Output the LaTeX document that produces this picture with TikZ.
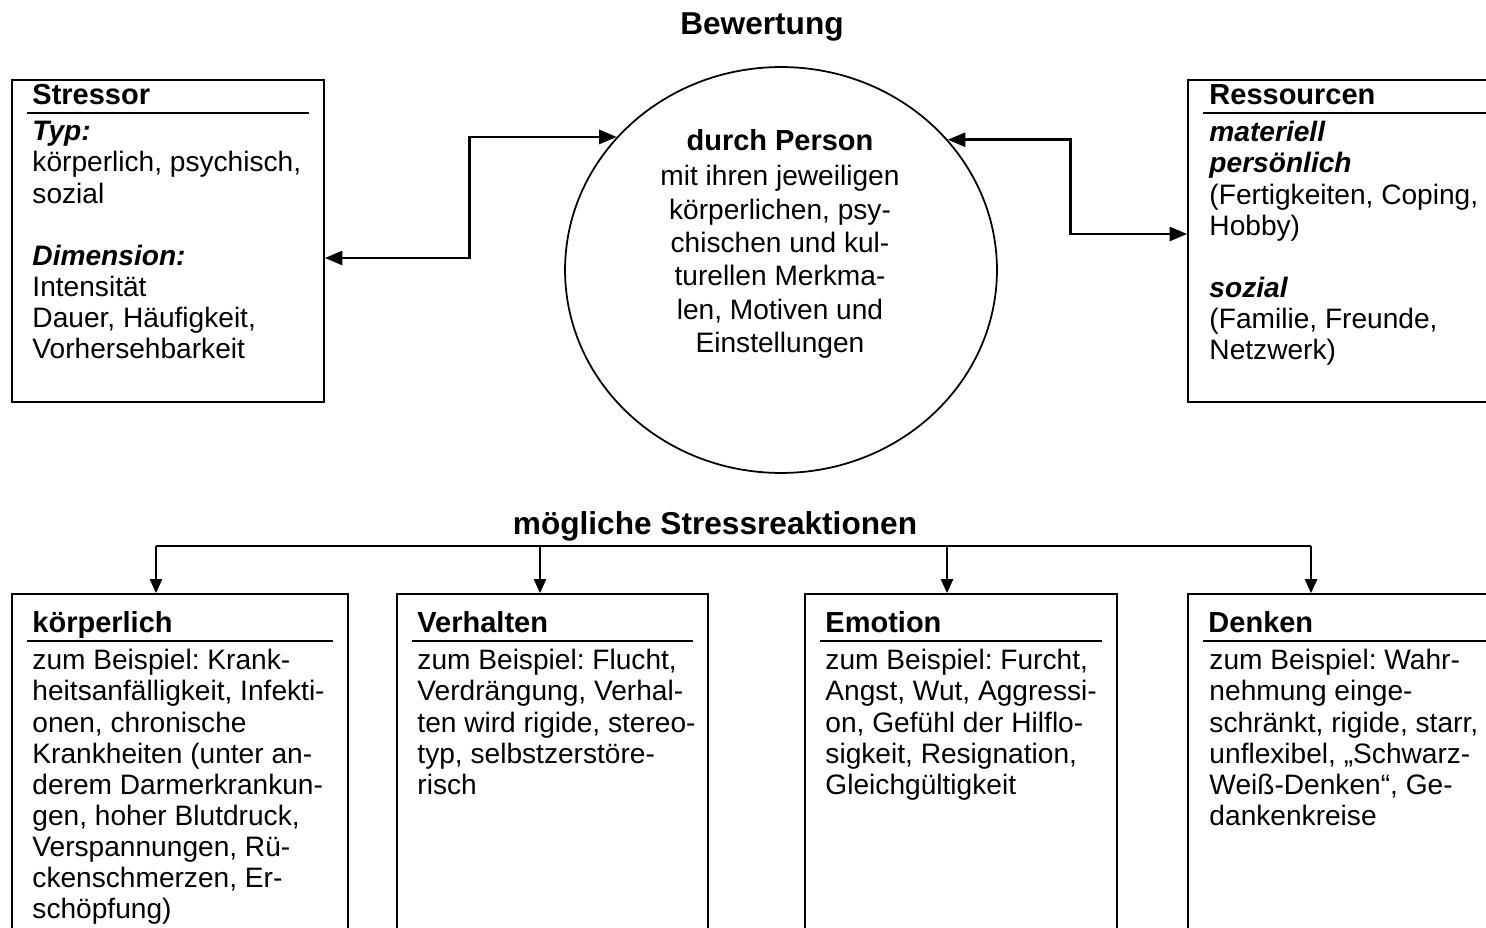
\documentclass[tikz,border=0pt]{standalone}
\usepackage{fontspec}
\setmainfont{Liberation Sans}
\usetikzlibrary{arrows.meta,positioning,fit,calc,shapes.geometric}
\frenchspacing
\newcommand{\bodyfont}{\fontsize{16}{17.7}\selectfont}
\newcommand{\headfont}{\fontsize{16.5}{18}\selectfont\bfseries}
\newcommand{\titlefont}{\fontsize{18}{20}\selectfont\bfseries}
\newcommand{\bi}[1]{\textbf{\textit{#1}}}

\begin{document}
\begin{tikzpicture}[x=0.02cm, y=-0.02cm,
  box/.style={draw=black, line width=1pt, inner sep=0pt},
  head/.style={font=\headfont, inner sep=0pt, anchor=base west},
  txt/.style={font=\bodyfont, align=left, inner sep=0pt, anchor=north west},
  rule/.style={line width=1pt},
  dbl/.style={{Triangle[length=10pt,width=8pt]}-{Triangle[length=10pt,width=8pt]}, line width=1.5pt},
  arr/.style={-{Triangle[length=8pt,width=7pt]}, line width=1pt}]
\useasboundingbox (0,0) rectangle (1486,928);
\clip (0,0) rectangle (1486,928);
% top row
\node[font=\titlefont, anchor=base] (bew) at (762,35) {Bewertung};
\node[box, fit={(12,80) (324,402)}] (stressor) {};
\node[head] (stressorH) at ($(stressor.north west)+(21,25)$) {Stressor};
\draw[rule] ($(stressor.north west)+(16,34)$) -- ($(stressor.north east)+(-16,34)$);
\node[txt] (stressorT) at ($(stressor.north west)+(21,42)$) {\bi{Typ:}\\körperlich, psychisch,\\sozial\\[17.7pt]\bi{Dimension:}\\Intensität\\Dauer, Häufigkeit,\\Vorhersehbarkeit};
\node[box, fit={(1188,80) (1510,402)}] (ressourcen) {};
\node[head] (ressourcenH) at ($(ressourcen.north west)+(22,25)$) {Ressourcen};
\draw[rule] ($(ressourcen.north west)+(16,34)$) -- ($(ressourcen.north east)+(-16,34)$);
\node[txt] (ressourcenT) at ($(ressourcen.north west)+(22,42)$) {\bi{materiell}\\\bi{persönlich}\\(Fertigkeiten, Coping,\\Hobby)\\[17.7pt]\bi{sozial}\\(Familie, Freunde,\\Netzwerk)};
% person
\node[draw, ellipse, line width=1pt, minimum width=8.64cm, minimum height=8.12cm, inner sep=0pt] (person) at (781,270) {};
\node[font=\headfont, anchor=base, inner sep=0pt] (personH) at (780,151) {durch Person};
\node[font=\fontsize{16}{19}\selectfont, align=center, inner sep=0pt, anchor=north] (personT) at (780,165) {mit ihren jeweiligen\\körperlichen, psy-\\chischen und kul-\\turellen Merkma-\\len, Motiven und\\Einstellungen};
\draw[dbl] ($(stressor.east)+(0,17)$) -| ($(person.141.8)+(-147,0)$) -- (person.141.8);
\draw[dbl] ($(ressourcen.west)+(0,-7)$) -| ($(person.38.8)+(123,0)$) -- (person.38.8);
% reactions
\node[font=\titlefont, anchor=base] (reakt) at (715,534) {mögliche Stressreaktionen};
\node[box, fit={(12,594) (348,960)}] (koerper) {};
\node[box, fit={(397,594) (708,960)}] (verhalten) {};
\node[box, fit={(805,594) (1117,960)}] (emotion) {};
\node[box, fit={(1188,594) (1510,960)}] (denken) {};
\foreach \n/\t in {koerper/körperlich, verhalten/Verhalten, emotion/Emotion, denken/Denken} {
  \node[head] (\n H) at ($(\n.north west)+(21,39)$) {\t};
  \draw[rule] ($(\n.north west)+(16,48)$) -- ($(\n.north east)+(-16,48)$);
}
\node[txt] (koerperT) at ($(koerper.north west)+(21,56)$) {zum Beispiel: Krank-\\heitsanfälligkeit, Infekti-\\onen, chronische\\Krankheiten (unter an-\\derem Darmerkrankun-\\gen, hoher Blutdruck,\\Verspannungen, Rü-\\ckenschmerzen, Er-\\schöpfung)};
\node[txt] (verhaltenT) at ($(verhalten.north west)+(21,56)$) {zum Beispiel: Flucht,\\Verdrängung, Verhal-\\ten wird rigide, stereo-\\typ, selbstzerstöre-\\risch};
\node[txt] (emotionT) at ($(emotion.north west)+(21,56)$) {zum Beispiel: Furcht,\\Angst, Wut, Aggressi-\\on, Gefühl der Hilflo-\\sigkeit, Resignation,\\Gleichgültigkeit};
\node[txt] (denkenT) at ($(denken.north west)+(22,56)$) {zum Beispiel: Wahr-\\nehmung einge-\\schränkt, rigide, starr,\\unflexibel, „Schwarz-\\Weiß-Denken“, Ge-\\dankenkreise};
\coordinate (busK) at (156,546);
\coordinate (busV) at (540,546);
\coordinate (busE) at (947,546);
\coordinate (busD) at (1311,546);
\draw[line width=1pt] (busK) -- (busD);
\foreach \b/\n in {busK/koerper, busV/verhalten, busE/emotion, busD/denken}
  \draw[arr] (\b) -- (\b |- \n.north);
\end{tikzpicture}
\end{document}
